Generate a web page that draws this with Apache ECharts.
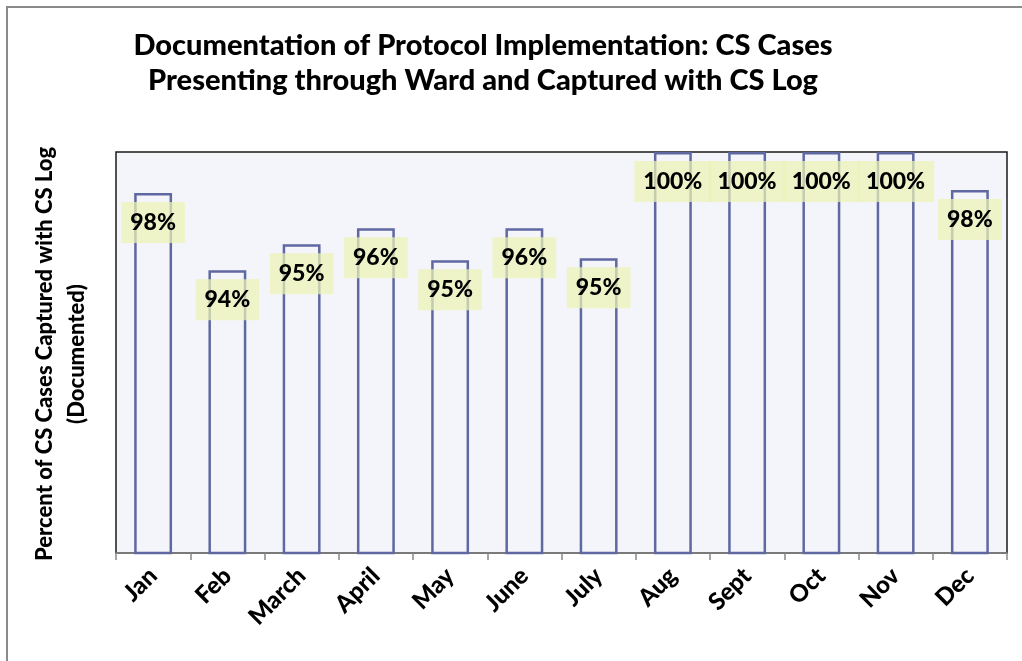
<!DOCTYPE html>
<html>
<head>
<meta charset="utf-8">
<script src="https://cdn.jsdelivr.net/npm/echarts@6/dist/echarts.min.js"></script>
<style>html,body{margin:0;padding:0;background:#fff;}#c{width:1022px;height:661px;}</style>
</head>
<body>
<div id="c"></div>
<script>
const months = ['Jan','Feb','March','April','May','June','July','Aug','Sept','Oct','Nov','Dec'];
const captured = [97.95, 94.1, 95.4, 96.2, 94.6, 96.2, 94.7, 100, 100, 100, 100, 98.1];
const titleLines = ['Documentation of Protocol Implementation: CS Cases','Presenting through Ward and Captured with CS Log'];
const yTitle = ['Percent of CS Cases Captured with CS Log','(Documented)'];
const yMin = 80, yMax = 100;

const FONT = 'Lato';
const W = '900';
const chart = echarts.init(document.getElementById('c'));
chart.setOption({
  animation: false,
  backgroundColor: '#ffffff',
  textStyle: {fontFamily: FONT},
  grid: {left: 116, right: 15, top: 152, bottom: 108, show: true, backgroundColor: '#f4f5fa', borderColor: '#1a1a1a', borderWidth: 1.5},
  graphic: [
    {type: 'polyline', shape: {points: [[7, 661], [7, 7], [1022, 7]]}, style: {stroke: '#8a8a8a', lineWidth: 2, fill: null}},
    {type: 'text', x: 483, y: 63, style: {text: titleLines.join('\n'), align: 'center', verticalAlign: 'middle', font: W + ' 29px ' + FONT, lineHeight: 35, fill: '#000'}},
    {type: 'text', x: 61, y: 354, rotation: Math.PI / 2, style: {text: yTitle.join('\n'), align: 'center', verticalAlign: 'middle', font: W + ' 22px ' + FONT, lineHeight: 32, fill: '#000'}}
  ],
  xAxis: {
    type: 'category', data: months,
    axisLine: {lineStyle: {color: '#888', width: 1.5}},
    axisTick: {show: true, length: 7, lineStyle: {color: '#888', width: 1.5}},
    axisLabel: {rotate: 45, margin: 19, color: '#000', fontWeight: W, fontSize: 24, fontFamily: FONT}
  },
  yAxis: {
    type: 'value', min: yMin, max: yMax, interval: 20,
    axisLine: {show: false}, axisTick: {show: false}, axisLabel: {show: false}, splitLine: {show: false}
  },
  series: [{
    type: 'bar', data: captured, barCategoryGap: '49%',
    itemStyle: {color: 'rgba(0,0,0,0)', borderColor: '#5f68a0', borderWidth: 2.5},
    label: {
      show: true, position: 'insideTop', distance: 9,
      formatter: p => Math.round(p.value) + '%',
      color: '#000', fontWeight: W, fontSize: 23, fontFamily: FONT, lineHeight: 27,
      backgroundColor: 'rgba(236,242,180,0.72)', padding: [7, 9]
    }
  }]
});
</script>
</body>
</html>
